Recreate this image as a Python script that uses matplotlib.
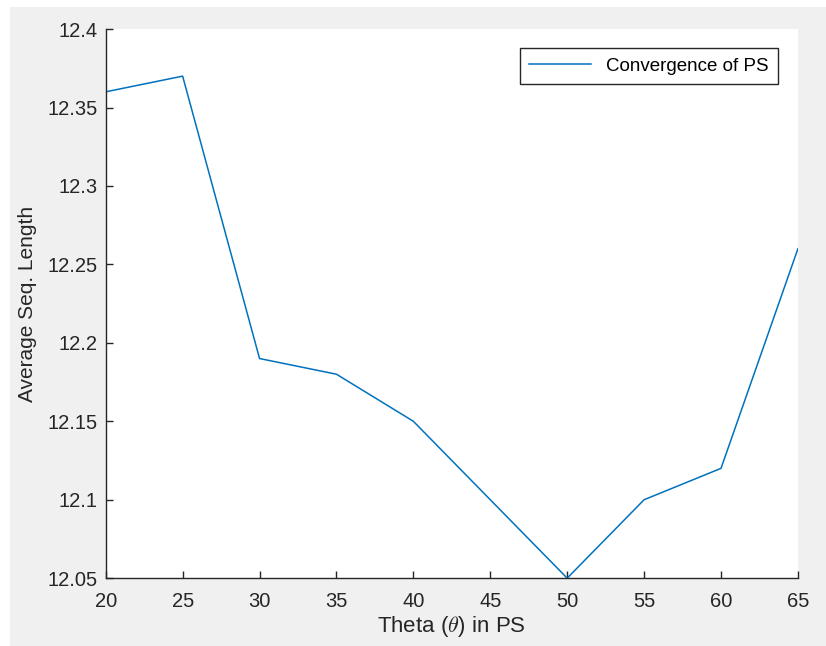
import matplotlib.pyplot as plt
from matplotlib.patches import Rectangle

# theta values and average sequence length
theta = [20, 25, 30, 35, 40, 45, 50, 55, 60, 65]
avg_len = [12.36, 12.37, 12.19, 12.18, 12.15, 12.10, 12.05, 12.10, 12.12, 12.26]

x_ticks = [20, 25, 30, 35, 40, 45, 50, 55, 60, 65]
y_ticks = [12.05, 12.1, 12.15, 12.2, 12.25, 12.3, 12.35, 12.4]
y_labels = ['12.05', '12.1', '12.15', '12.2', '12.25', '12.3', '12.35', '12.4']

plt.rcParams['font.family'] = ['Liberation Sans', 'DejaVu Sans']
plt.rcParams['mathtext.fontset'] = 'cm'

fig = plt.figure(figsize=(8.26, 6.46), dpi=100, facecolor='white')
# grey window background, thin white border at top and left
fig.patches.append(Rectangle((10 / 826, 0), 1, 1 - 7 / 646, transform=fig.transFigure,
                             facecolor='#f0f0f0', edgecolor='none', zorder=-10))

ax = fig.add_axes([0.128, 0.105, 0.838, 0.850])

ax.plot(theta, avg_len, color='#0072BD', lw=1.1, label='Convergence of PS')

ax.set_xlim(20, 65)
ax.set_ylim(12.05, 12.4)
ax.set_xticks(x_ticks)
ax.set_yticks(y_ticks)
ax.set_yticklabels(y_labels)
ax.tick_params(direction='in', length=5, width=1, colors='#262626', labelsize=14.5)
ax.tick_params(axis='y', pad=6)
ax.tick_params(axis='x', pad=10)

for side in ['top', 'right']:
    ax.spines[side].set_visible(False)
for side in ['left', 'bottom']:
    ax.spines[side].set_color('#262626')
    ax.spines[side].set_linewidth(1)

ax.set_xlabel(r'Theta ($\theta$) in PS', fontsize=16, color='#262626', labelpad=2)
ax.set_ylabel('Average Seq. Length', fontsize=15, color='#262626', labelpad=7)

leg = ax.legend(loc='upper right', bbox_to_anchor=(0.9715, 0.9654), borderaxespad=0,
                fontsize=13.5, fancybox=False, framealpha=1, handlelength=3.3, borderpad=0.5)
leg.get_frame().set_edgecolor('#262626')
leg.get_frame().set_linewidth(1)

fig.savefig('out.png', dpi=100, facecolor=fig.get_facecolor())
